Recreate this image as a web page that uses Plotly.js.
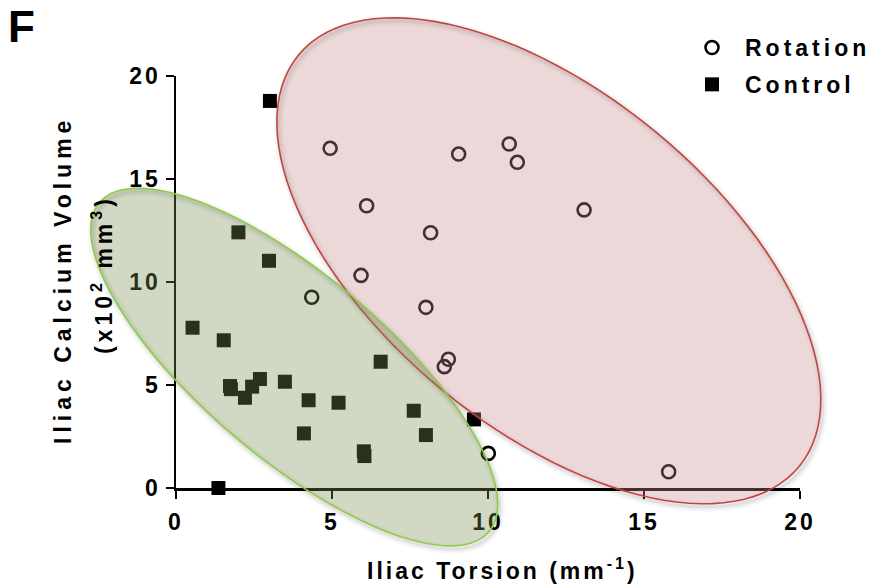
<!DOCTYPE html>
<html>
<head>
<meta charset="utf-8">
<script src="https://cdn.plot.ly/plotly-3.0.1.min.js"></script>
<style>
  html, body { margin:0; padding:0; background:#fff; }
  #chart { width:873px; height:585px; }
  .xtick text, .ytick text { letter-spacing: 3px; }
  .legendtext { letter-spacing: 4px; }
  .legend .scrollbox, .legend { clip-path: none !important; }
  g.annotation[data-index="1"] text { letter-spacing: 5px; }
  g.annotation[data-index="2"] text { letter-spacing: 4px; }
  g.annotation[data-index="3"] text { letter-spacing: 3px; }
</style>
</head>
<body>
<div id="chart"></div>
<script>
// ---- data ----
const rotationX = [4.94, 9.06, 10.68, 10.94, 13.08, 6.11, 8.16, 5.93, 4.35, 8.01, 8.73, 8.60, 10.01, 15.79];
const rotationY = [16.49, 16.21, 16.70, 15.81, 13.50, 13.70, 12.39, 10.32, 9.26, 8.77, 6.25, 5.89, 1.68, 0.79];

const controlX = [3.01, 2.00, 2.98, 0.53, 1.53, 1.73, 1.76, 2.44, 2.69, 2.21, 3.49, 4.25, 5.21, 4.10, 6.02, 6.04, 6.56, 7.62, 8.01, 1.36, 9.55];
const controlY = [18.79, 12.41, 11.03, 7.78, 7.17, 4.95, 4.80, 4.92, 5.29, 4.38, 5.16, 4.26, 4.14, 2.65, 1.78, 1.55, 6.13, 3.75, 2.57, 0.00, 3.33];

const xTicks = [0, 5, 10, 15, 20];
const yTicks = [0, 5, 10, 15, 20];
const seriesNames = ['Rotation', 'Control'];

// ---- layout geometry ----
const W = 873, H = 585;
const M = {l:176, r:73, t:76, b:97};
const PW = W - M.l - M.r, PH = H - M.t - M.b;
const xRange = [0, 20], yRange = [0, 20];
const xToPx = v => M.l + (v - xRange[0]) / (xRange[1] - xRange[0]) * PW;
const yToPx = v => M.t + PH - (v - yRange[0]) / (yRange[1] - yRange[0]) * PH;
const pxToPaperX = p => (p - M.l) / PW;
const pxToPaperY = p => (M.t + PH - p) / PH;

// ellipse (group region) drawn as a path in paper coords so it is not clipped
function ellipsePath(cx, cy, aPx, bPx, angDeg, dx, dy) {
  dx = dx || 0; dy = dy || 0;
  const cxp = xToPx(cx) + dx, cyp = yToPx(cy) + dy;
  const t = angDeg * Math.PI / 180;
  const N = 120;
  let d = '';
  for (let i = 0; i <= N; i++) {
    const u = 2 * Math.PI * i / N;
    const px = cxp + aPx * Math.cos(u) * Math.cos(t) - bPx * Math.sin(u) * Math.sin(t);
    const py = cyp + aPx * Math.cos(u) * Math.sin(t) + bPx * Math.sin(u) * Math.cos(t);
    d += (i === 0 ? 'M ' : ' L ') + pxToPaperX(px).toFixed(5) + ',' + pxToPaperY(py).toFixed(5);
  }
  return d + ' Z';
}

const redEllipse = [11.95, 11.03, 324, 167.5, 39.4];
const greenEllipse = [3.79, 5.87, 255, 91.5, 40.2];

const FONT = 'Liberation Sans, Arial, Helvetica, sans-serif';
const baseFont = {family: FONT, size: 23, color: '#000', weight: 'bold'};

const traces = [
  {
    type: 'scatter', mode: 'markers', name: seriesNames[0],
    x: rotationX, y: rotationY, legendgroup: 'a',
    marker: {symbol: 'circle-open', size: 13, color: '#000', line: {width: 2.6, color: '#000'}},
    cliponaxis: false
  },
  {
    type: 'scatter', mode: 'markers', name: seriesNames[1],
    x: controlX, y: controlY, legendgroup: 'b',
    marker: {symbol: 'square', size: 14, color: '#000', line: {width: 0}},
    cliponaxis: false
  }
];

const axisCommon = {
  showline: true, linewidth: 2.5, linecolor: '#000',
  ticks: 'outside', ticklen: 8, tickwidth: 2.2, tickcolor: '#000',
  showgrid: false, zeroline: false, tickfont: baseFont,
  fixedrange: true
};

function shadowShapes(e) {
  const out = [];
  const widths = [10, 6, 3];
  const alphas = [0.03, 0.04, 0.05];
  for (let k = 0; k < widths.length; k++) {
    out.push({type: 'path', xref: 'paper', yref: 'paper', layer: 'below',
      path: ellipsePath(e[0], e[1], e[2], e[3], e[4], 2, 3),
      fillcolor: 'rgba(0,0,0,0)', line: {color: 'rgba(0,0,0,' + alphas[k] + ')', width: widths[k]}});
  }
  return out;
}

const layout = {
  width: W, height: H,
  margin: Object.assign({autoexpand: false}, M),
  paper_bgcolor: '#fff', plot_bgcolor: 'rgba(0,0,0,0)',
  font: baseFont,
  showlegend: true,
  legend: {
    x: pxToPaperX(679), y: pxToPaperY(26), xanchor: 'left', yanchor: 'top',
    font: baseFont, traceorder: 'grouped', tracegroupgap: 4, itemwidth: 56,
    bgcolor: 'rgba(0,0,0,0)'
  },
  xaxis: Object.assign({}, axisCommon, {
    range: xRange, tickvals: xTicks, ticklabelstandoff: 4
  }),
  yaxis: Object.assign({}, axisCommon, {
    range: yRange, tickvals: yTicks, ticklabelstandoff: 0
  }),
  annotations: [
    {text: 'F', xref: 'paper', yref: 'paper', x: pxToPaperX(6), y: pxToPaperY(0),
     xanchor: 'left', yanchor: 'top', showarrow: false,
     font: {family: FONT, size: 44, color: '#000', weight: 'bold'}},
    {text: 'Iliac Calcium Volume', xref: 'paper', yref: 'paper',
     x: pxToPaperX(63), y: pxToPaperY(280), xanchor: 'center', yanchor: 'middle',
     textangle: -90, showarrow: false, font: baseFont},
    {text: '(x10<sup>2</sup> mm<sup>3</sup>)', xref: 'paper', yref: 'paper',
     x: pxToPaperX(102), y: pxToPaperY(275), xanchor: 'center', yanchor: 'middle',
     textangle: -90, showarrow: false, font: baseFont},
    {text: 'Iliac Torsion (mm<sup>-1</sup>)', xref: 'paper', yref: 'paper',
     x: pxToPaperX(502), y: pxToPaperY(569), xanchor: 'center', yanchor: 'middle',
     showarrow: false, font: baseFont}
  ],
  shapes: shadowShapes(redEllipse).concat(shadowShapes(greenEllipse)).concat([
    {type: 'path', xref: 'paper', yref: 'paper', layer: 'above',
     path: ellipsePath.apply(null, redEllipse),
     fillcolor: 'rgba(200,140,145,0.34)', line: {color: 'rgb(196,68,66)', width: 1.6}},
    {type: 'path', xref: 'paper', yref: 'paper', layer: 'above',
     path: ellipsePath.apply(null, greenEllipse),
     fillcolor: 'rgba(120,140,80,0.34)', line: {color: 'rgb(140,205,70)', width: 1.6}}
  ])
};

Plotly.newPlot('chart', traces, layout, {displayModeBar: false, staticPlot: true});
</script>
</body>
</html>
